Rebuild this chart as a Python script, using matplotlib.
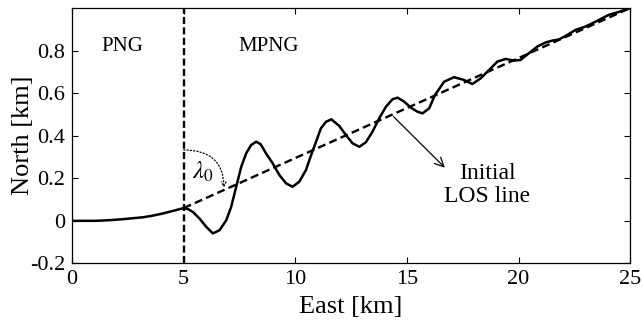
import matplotlib
matplotlib.use("Agg")
import matplotlib.pyplot as plt

plt.rcParams['font.family'] = ['Liberation Serif', 'DejaVu Serif']
plt.rcParams['mathtext.fontset'] = 'stix'

# PNG phase (before switching) and MPNG phase trajectory [km]
png_east = [0.0, 0.5, 1.0, 1.3, 1.8, 2.3, 2.8, 3.2, 3.6, 4.0, 4.5, 5.0]
png_north = [0.0, 0.0, 0.0, 0.001, 0.004, 0.008, 0.013, 0.017, 0.024, 0.033, 0.046, 0.06]

mpng_east = [5.0, 5.2, 5.41, 5.71, 6.01, 6.31, 6.61, 6.91, 7.13, 7.28, 7.43, 7.58,
             7.80, 8.02, 8.25, 8.45, 8.69, 8.99, 9.29, 9.59, 9.88, 10.18, 10.48,
             10.71, 10.93, 11.15, 11.38, 11.62, 11.97, 12.27, 12.57, 12.87, 13.16,
             13.46, 13.76, 14.06, 14.35, 14.58, 14.88, 15.18, 15.47, 15.7, 16.0,
             16.25, 16.67, 17.11, 17.56, 17.93, 18.31, 18.68, 19.05, 19.42, 19.79,
             20.09, 20.47, 20.84, 21.21, 21.51, 21.8, 22.11, 22.55, 23.0, 23.45,
             24.04, 24.5, 25.0]
mpng_north = [0.06, 0.055, 0.042, 0.011, -0.028, -0.059, -0.044, 0.003, 0.066, 0.129, 0.192, 0.254,
              0.317, 0.356, 0.372, 0.36, 0.317, 0.27, 0.215, 0.176, 0.16, 0.184, 0.239,
              0.309, 0.372, 0.435, 0.466, 0.477, 0.446, 0.403, 0.364, 0.348, 0.369,
              0.419, 0.482, 0.536, 0.571, 0.579, 0.56, 0.532, 0.513, 0.505, 0.529,
              0.59, 0.654, 0.675, 0.662, 0.643, 0.67, 0.709, 0.748, 0.761, 0.753,
              0.756, 0.788, 0.819, 0.838, 0.847, 0.852, 0.869, 0.897, 0.913, 0.936,
              0.968, 0.982, 1.0]

los_east = [5.0, 25.0]
los_north = [0.06, 1.0]

switch_east = 5.0
xticks = [0, 5, 10, 15, 20, 25]
yticks = [-0.2, 0, 0.2, 0.4, 0.6, 0.8]
ytick_labels = ['-0.2', '0', '0.2', '0.4', '0.6', '0.8']

fig = plt.figure(figsize=(6.43, 3.22), dpi=100)
ax = fig.add_axes([0.112, 0.182, 0.868, 0.793])

ax.plot(png_east, png_north, color='black', lw=1.8, solid_capstyle='round')
ax.plot(mpng_east, mpng_north, color='black', lw=1.8, solid_joinstyle='round')
ax.plot(los_east, los_north, color='black', lw=1.7, linestyle=(0, (3.4, 1.8)))
ax.axvline(switch_east, color='black', lw=1.7, linestyle=(0, (3.0, 1.4)))

ax.set_xlim(0, 25)
ax.set_ylim(-0.2, 1.0)
ax.set_xticks(xticks)
ax.set_yticks(yticks)
ax.set_yticklabels(ytick_labels)
ax.tick_params(direction='in', top=True, right=True, length=4, width=0.8,
               labelsize=16, pad=5)
for s in ax.spines.values():
    s.set_linewidth(0.9)

ax.set_xlabel('East [km]', fontsize=19, labelpad=5)
ax.set_ylabel('North [km]', fontsize=19, labelpad=-3)

ax.text(2.25, 0.82, 'PNG', fontsize=15, ha='center', va='center')
ax.text(8.8, 0.82, 'MPNG', fontsize=15, ha='center', va='center')

# lambda_0 angle arc
ax.annotate('', xy=(6.8, 0.155), xytext=(5.0, 0.333),
            arrowprops=dict(arrowstyle='->', lw=0.9, linestyle=':',
                            connectionstyle='angle3,angleA=0,angleB=90',
                            shrinkA=0, shrinkB=0, mutation_scale=8))
ax.text(5.85, 0.23, r'$\lambda_0$', fontsize=18, ha='center', va='center')

# Initial LOS line annotation
ax.annotate('', xy=(16.7, 0.25), xytext=(14.4, 0.49),
            arrowprops=dict(arrowstyle='->', lw=0.9, shrinkA=0, shrinkB=0,
                            mutation_scale=16))
ax.text(18.6, 0.224, 'Initial', fontsize=17, ha='center', va='center')
ax.text(18.6, 0.113, 'LOS line', fontsize=17, ha='center', va='center')

fig.savefig('out.png', dpi=100)
